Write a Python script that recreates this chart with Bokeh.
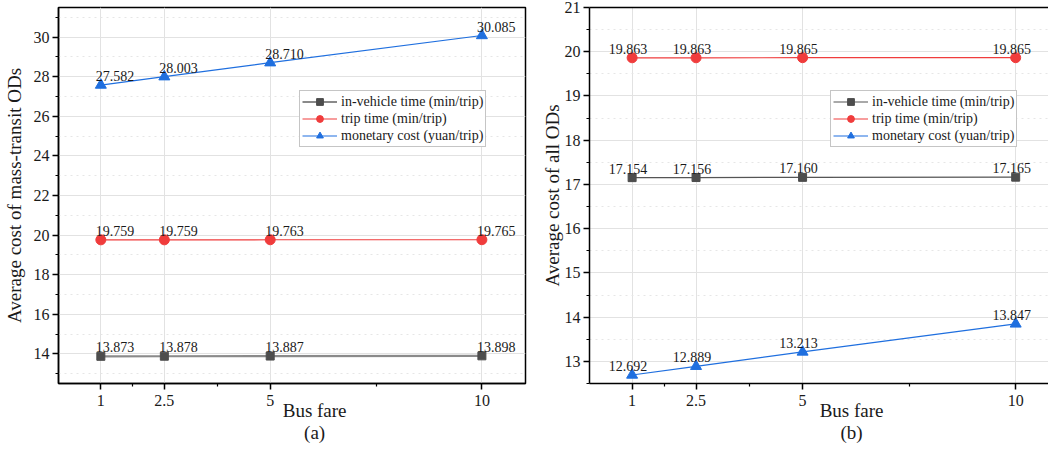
from bokeh.plotting import figure
from bokeh.layouts import row
from bokeh.models import (FixedTicker, Legend, LegendItem, LinearAxis,
                          ColumnDataSource, Range1d, CustomJSTickFormatter)
from bokeh.core.properties import value
from bokeh.embed import file_html
from bokeh.resources import INLINE

fares = [1, 2.5, 5, 10]
x_ticks = [1, 2.5, 5, 10]
x_minor = [1.75, 3.75, 7.5]

a_in_vehicle = [13.873, 13.878, 13.887, 13.898]
a_trip = [19.759, 19.759, 19.763, 19.765]
a_money = [27.582, 28.003, 28.710, 30.085]

b_in_vehicle = [17.154, 17.156, 17.160, 17.165]
b_trip = [19.863, 19.863, 19.865, 19.865]
b_money = [12.692, 12.889, 13.213, 13.847]

a_yticks = [14, 16, 18, 20, 22, 24, 26, 28, 30]
a_yminor = [13, 15, 17, 19, 21, 23, 25, 27, 29, 31]
b_yticks = [13, 14, 15, 16, 17, 18, 19, 20, 21]
b_yminor = [12.5, 13.5, 14.5, 15.5, 16.5, 17.5, 18.5, 19.5, 20.5]

series_names = ["in-vehicle time (min/trip)", "trip time (min/trip)",
                "monetary cost (yuan/trip)"]
x_title = "Bus fare"

FONT = "Liberation Serif"
TXT = "#1a1a1a"
GRAY_M = "#4d4d4d"
RED = "#f03c3c"
BLUE = "#1f6fdf"


def text_axis(text, at, standoff, size):
    ax = LinearAxis(ticker=FixedTicker(ticks=[at]),
                    formatter=CustomJSTickFormatter(code="return %r;" % text),
                    axis_line_color=None, major_tick_line_color=None,
                    minor_tick_line_color=None, major_tick_out=0,
                    minor_tick_out=0, major_tick_in=0, minor_tick_in=0,
                    major_label_standoff=standoff,
                    major_label_text_font=FONT,
                    major_label_text_font_size=size,
                    major_label_text_color=TXT)
    return ax


def make_panel(width, border_left, border_right, xr, yr, yticks, yminor,
               series, ylabel, tag, label_align, label_dx, gray_line,
               gray_w, outline, ylab_standoff, title_at):
    p = figure(width=width, height=449, output_backend="svg",
               toolbar_location=None, x_range=Range1d(*xr),
               y_range=Range1d(*yr), min_border_left=border_left,
               min_border_right=border_right, min_border_top=7,
               min_border_bottom=66)
    p.background_fill_color = "white"
    p.border_fill_color = "white"
    xa = p.below[0]
    ya = p.left[0]
    if outline:
        p.outline_line_color = "black"
        p.outline_line_width = 1.5
    else:
        p.outline_line_color = None
        top = LinearAxis(ticker=FixedTicker(ticks=[]),
                         major_label_text_font_size="0px",
                         major_label_standoff=0,
                         major_tick_out=0, minor_tick_out=0,
                         major_tick_in=0, minor_tick_in=0,
                         axis_line_width=1.5, axis_line_color="black")
        p.add_layout(top, "above")

    xtick = FixedTicker(ticks=x_ticks, minor_ticks=x_minor)
    xa.ticker = xtick
    ytick = FixedTicker(ticks=yticks, minor_ticks=yminor)
    ya.ticker = ytick
    for ax in (xa, ya):
        ax.axis_line_width = 1.5
        ax.axis_line_color = "black"
        ax.major_tick_line_width = 1.5
        ax.minor_tick_line_width = 1.2
        ax.major_tick_in = 0
        ax.minor_tick_in = 0
        ax.major_tick_out = 6
        ax.minor_tick_out = 3
        ax.major_label_text_font = FONT
        ax.major_label_text_font_size = "16px"
        ax.major_label_text_color = TXT
        ax.axis_label_text_font = FONT
        ax.axis_label_text_font_size = "19px"
        ax.axis_label_text_font_style = "normal"
        ax.axis_label_text_color = TXT
    ya.axis_label = ylabel
    ya.axis_label_standoff = ylab_standoff
    ya.major_label_standoff = 3

    p.xgrid.ticker = xtick
    p.ygrid.ticker = ytick
    p.xgrid.grid_line_color = "#e2e2e2"
    p.ygrid.grid_line_color = "#e2e2e2"
    p.ygrid.minor_grid_line_color = "#e6e6e6"
    p.ygrid.minor_grid_line_dash = "dotted"

    p.add_layout(text_axis(x_title, title_at, -9, "19px"), "below")
    p.add_layout(text_axis(tag, title_at, -2, "19px"), "below")

    styles = [
        dict(color=gray_line, w=gray_w, marker="square", fill=GRAY_M, size=8),
        dict(color=RED, w=1.2, marker="circle", fill=RED, size=10),
        dict(color=BLUE, w=1.2, marker="triangle", fill=BLUE, size=11),
    ]
    items = []
    for name, ys, st in zip(series_names, series, styles):
        src = ColumnDataSource(dict(x=fares, y=ys,
                                    t=["%.3f" % v for v in ys]))
        lr = p.line("x", "y", source=src, line_color=st["color"],
                    line_width=st["w"])
        mr = p.scatter("x", "y", source=src, marker=st["marker"],
                       size=st["size"], fill_color=st["fill"],
                       line_color=st["fill"])
        p.text("x", "y", text="t", source=src, text_font=value(FONT),
               text_font_size="14px", text_color=TXT,
               text_align=label_align, text_baseline="bottom",
               x_offset=label_dx, y_offset=-4)
        items.append(LegendItem(label=name, renderers=[lr, mr]))

    leg = Legend(items=items, location=(241, 236), padding=2, spacing=0,
                 margin=0, glyph_width=35, glyph_height=17, label_height=17,
                 label_standoff=4, label_text_font=FONT,
                 label_text_font_size="14px", label_text_color=TXT,
                 border_line_color="#8c8c8c", border_line_width=1,
                 background_fill_alpha=1.0)
    p.add_layout(leg, "center")
    return p


p1 = make_panel(530, 57, 5, (0, 11.03), (12.5, 31.5), a_yticks, a_yminor,
                [a_in_vehicle, a_trip, a_money],
                "Average cost of mass-transit ODs", "(a)", "left", -5,
                "#8a8a8a", 2.2, True, 6, 6.05)
p2 = make_panel(518, 59, 0, (0, 10.77), (12.5, 21), b_yticks, b_yminor,
                [b_in_vehicle, b_trip, b_money],
                "Average cost of all ODs", "(b)", "center", -4,
                "#555555", 1.2, False, -1, 6.15)

layout = row(p1, p2)
open("out.html", "w").write(file_html(layout, INLINE))
